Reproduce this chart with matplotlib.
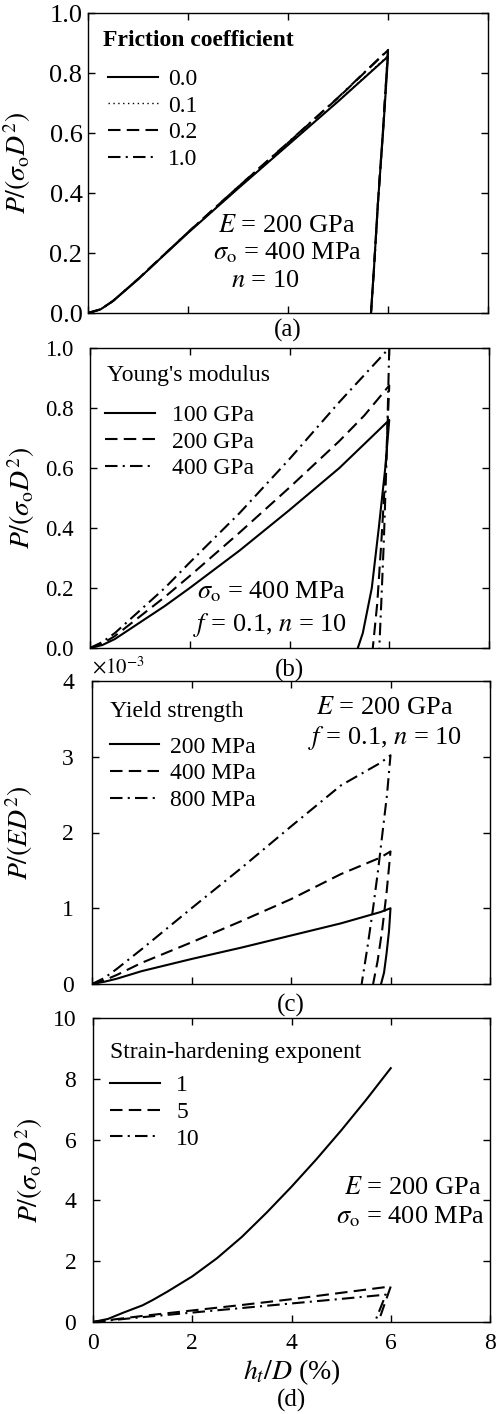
import matplotlib
matplotlib.use('Agg')
import matplotlib.pyplot as plt

plt.rcParams['font.family'] = ['Liberation Serif', 'DejaVu Serif']
plt.rcParams['mathtext.fontset'] = 'stix'

# ---------------- data ----------------
x_ticks = [0, 2, 4, 6, 8]

# (a) friction coefficient
a_labels = ['0.0', '0.1', '0.2', '1.0']
a_load_x = [0, 0.25, 0.5, 1, 1.5, 2, 3, 4, 5, 6]
a_load_f00 = [0, 0.012, 0.04, 0.112, 0.19, 0.267, 0.415, 0.56, 0.705, 0.855]
a_load_f01 = [0, 0.012, 0.04, 0.112, 0.19, 0.267, 0.415, 0.56, 0.706, 0.858]
a_load_f02 = [0, 0.012, 0.04, 0.113, 0.191, 0.269, 0.42, 0.567, 0.717, 0.876]
a_load_f10 = [0, 0.012, 0.04, 0.113, 0.191, 0.269, 0.42, 0.568, 0.718, 0.877]
a_unload_x = [6, 5.9, 5.8, 5.72, 5.66]
a_unload_f00 = [0.855, 0.6, 0.37, 0.15, 0]
a_unload_f01 = [0.858, 0.6, 0.37, 0.15, 0]
a_unload_f02 = [0.876, 0.61, 0.37, 0.15, 0]
a_unload_f10 = [0.877, 0.61, 0.37, 0.15, 0]

# (b) Young's modulus
b_labels = ['100 GPa', '200 GPa', '400 GPa']
b_load_x = [0, 0.25, 0.5, 1, 1.5, 2, 3, 4, 5, 5.5, 6]
b_load_e100 = [0, 0.01, 0.03, 0.085, 0.14, 0.2, 0.325, 0.46, 0.6, 0.68, 0.76]
b_load_e200 = [0, 0.015, 0.04, 0.105, 0.17, 0.24, 0.385, 0.535, 0.69, 0.775, 0.875]
b_load_e400 = [0, 0.02, 0.05, 0.125, 0.2, 0.285, 0.45, 0.63, 0.82, 0.91, 1.0]
b_unload_x_e100 = [6, 5.92, 5.79, 5.65, 5.47, 5.37]
b_unload_y_e100 = [0.76, 0.6, 0.4, 0.2, 0.05, 0]
b_unload_x_e200 = [6, 5.93, 5.84, 5.76, 5.67]
b_unload_y_e200 = [0.875, 0.6, 0.35, 0.15, 0]
b_unload_x_e400 = [6, 5.95, 5.89, 5.84, 5.8]
b_unload_y_e400 = [1.0, 0.65, 0.35, 0.15, 0]

# (c) yield strength (x 1e-3)
c_labels = ['200 MPa', '400 MPa', '800 MPa']
c_load_x = [0, 0.25, 0.5, 1, 2, 3, 4, 5, 5.8, 6]
c_load_s200 = [0, 0.03, 0.07, 0.17, 0.33, 0.48, 0.64, 0.8, 0.95, 1.0]
c_load_s400 = [0, 0.05, 0.12, 0.28, 0.55, 0.83, 1.12, 1.45, 1.67, 1.75]
c_load_s800 = [0, 0.08, 0.2, 0.46, 1.0, 1.53, 2.08, 2.62, 2.92, 3.02]
c_unload_x_s200 = [6, 5.97, 5.92, 5.87, 5.81]
c_unload_y_s200 = [1.0, 0.7, 0.4, 0.15, 0]
c_unload_x_s400 = [6, 5.92, 5.83, 5.74, 5.65]
c_unload_y_s400 = [1.75, 1.2, 0.7, 0.3, 0]
c_unload_x_s800 = [6, 5.93, 5.84, 5.75, 5.65, 5.54, 5.42]
c_unload_y_s800 = [3.02, 2.5, 2.0, 1.5, 1.0, 0.5, 0]

# (d) strain-hardening exponent
d_labels = ['1', '5', '10']
d_load_x_n1 = [0, 0.3, 0.6, 1, 1.2, 1.5, 2, 2.5, 3, 3.5, 4, 4.5, 5, 5.5, 6]
d_load_y_n1 = [0, 0.1, 0.3, 0.55, 0.72, 1.0, 1.5, 2.1, 2.8, 3.6, 4.45, 5.35, 6.3, 7.3, 8.35]
d_load_x_n5 = [0, 0.5, 1, 2, 3, 4, 5, 6]
d_load_y_n5 = [0, 0.1, 0.2, 0.38, 0.56, 0.75, 0.96, 1.17]
d_load_x_n10 = [0, 0.5, 1, 2, 3, 4, 5, 5.9]
d_load_y_n10 = [0, 0.08, 0.16, 0.31, 0.46, 0.61, 0.76, 0.9]
d_unload_x_n5 = [6, 5.75]
d_unload_y_n5 = [1.17, 0]
d_unload_x_n10 = [5.9, 5.68]
d_unload_y_n10 = [0.9, 0]

# ---------------- styles ----------------
LW = 1.5
solid = dict(color='black', lw=LW, linestyle='-')
dotted = dict(color='black', lw=1.0, linestyle=(0, (1, 2.5)))
dashed = dict(color='black', lw=LW, linestyle=(0, (6, 3)))
dashdot = dict(color='black', lw=LW, linestyle=(0, (6, 2.5, 1, 2.5)))

LEG_FS = 17
TXT_FS = 19
LAB_FS = 20

fig = plt.figure(figsize=(4.97, 14.14), dpi=100)
W, H = 497, 1414

def make_ax(left, top, right, bottom):
    return fig.add_axes([left / W, 1 - bottom / H, (right - left) / W, (bottom - top) / H])

axA = make_ax(88, 13, 488, 313)
axB = make_ax(90, 348, 489, 648)
axC = make_ax(92, 681, 490, 984)
axD = make_ax(93, 1018, 490, 1322)

def style_ax(ax, ylim, yticks, ylabels, show_x, tick_fs, ypad):
    ax.set_xlim(0, 8)
    ax.set_ylim(*ylim)
    ax.set_xticks(x_ticks)
    ax.set_yticks(yticks)
    ax.set_yticklabels(ylabels)
    if not show_x:
        ax.set_xticklabels([])
    ax.tick_params(direction='in', top=True, right=True, length=5, width=1,
                   labelsize=tick_fs)
    ax.tick_params(axis='y', pad=ypad)
    ax.tick_params(axis='x', pad=8)
    for s in ax.spines.values():
        s.set_linewidth(1.0)

def concat(a, b):
    return list(a) + list(b)

# (a)
axA.plot(concat(a_load_x, a_unload_x), concat(a_load_f00, a_unload_f00), label=a_labels[0], **solid)
axA.plot(concat(a_load_x, a_unload_x), concat(a_load_f01, a_unload_f01), label=a_labels[1], **dotted)
axA.plot(concat(a_load_x, a_unload_x), concat(a_load_f02, a_unload_f02), label=a_labels[2], **dashed)
axA.plot(concat(a_load_x, a_unload_x), concat(a_load_f10, a_unload_f10), label=a_labels[3], **dashdot)
style_ax(axA, (0, 1), [0, 0.2, 0.4, 0.6, 0.8, 1.0], ['0.0', '0.2', '0.4', '0.6', '0.8', '1.0'],
         False, 19, 4)

# (b)
axB.plot(concat(b_load_x, b_unload_x_e100), concat(b_load_e100, b_unload_y_e100), label=b_labels[0], **solid)
axB.plot(concat(b_load_x, b_unload_x_e200), concat(b_load_e200, b_unload_y_e200), label=b_labels[1], **dashed)
axB.plot(concat(b_load_x, b_unload_x_e400), concat(b_load_e400, b_unload_y_e400), label=b_labels[2], **dashdot)
style_ax(axB, (0, 1), [0, 0.2, 0.4, 0.6, 0.8, 1.0], ['0.0', '0.2', '0.4', '0.6', '0.8', '1.0'],
         False, 16.5, 12)

# (c)
axC.plot(concat(c_load_x, c_unload_x_s200), concat(c_load_s200, c_unload_y_s200), label=c_labels[0], **solid)
axC.plot(concat(c_load_x, c_unload_x_s400), concat(c_load_s400, c_unload_y_s400), label=c_labels[1], **dashed)
axC.plot(concat(c_load_x, c_unload_x_s800), concat(c_load_s800, c_unload_y_s800), label=c_labels[2], **dashdot)
style_ax(axC, (0, 4), [0, 1, 2, 3, 4], ['0', '1', '2', '3', '4'], False, 17, 13)

# (d)
axD.plot(d_load_x_n1, d_load_y_n1, label=d_labels[0], **solid)
axD.plot(concat(d_load_x_n5, d_unload_x_n5), concat(d_load_y_n5, d_unload_y_n5), label=d_labels[1], **dashed)
axD.plot(concat(d_load_x_n10, d_unload_x_n10), concat(d_load_y_n10, d_unload_y_n10), label=d_labels[2], **dashdot)
style_ax(axD, (0, 10), [0, 2, 4, 6, 8, 10], ['0', '2', '4', '6', '8', '10'], True, 17, 12)

# y labels
ylab_sigma = r'$P/(\sigma_{\rm o}D^2)$'
for ax, lab, xc in [(axA, ylab_sigma, -0.1375), (axB, ylab_sigma, -0.133),
                    (axC, r'$P/(ED^2)$', -0.143), (axD, r'$P/(\sigma_{\rm o}\,D^2)$', -0.121)]:
    ax.set_ylabel(lab, fontsize=LAB_FS)
    ax.yaxis.set_label_coords(xc, 0.5)

axD.set_xlabel(r'$h_t/D$ (%)', fontsize=LAB_FS, labelpad=2)

# panel labels
PFS = 18
axA.text(0.5, -17 / 300, '(a)', transform=axA.transAxes, ha='center', va='center', fontsize=PFS)
axB.text(0.5, -22 / 300, '(b)', transform=axB.transAxes, ha='center', va='center', fontsize=PFS)
axC.text(0.5, -21 / 303, '(c)', transform=axC.transAxes, ha='center', va='center', fontsize=PFS)
axD.text(0.5, -78 / 304, '(d)', transform=axD.transAxes, ha='center', va='center', fontsize=PFS)

axC.text(0.0, 1.01, r'$\times10^{-3}$', transform=axC.transAxes, ha='left', va='bottom', fontsize=15)

# annotations
def txt(ax, x, y, s):
    ax.text(x, y, s, transform=ax.transAxes, ha='center', va='center', fontsize=TXT_FS)

txt(axA, 0.4975, 0.29, r'$E$ = 200 GPa')
txt(axA, 0.50, 0.20, r'$\sigma_{\rm o}$ = 400 MPa')
txt(axA, 0.4425, 0.107, r'$n$ = 10')
txt(axB, 0.456, 0.187, r'$\sigma_{\rm o}$ = 400 MPa')
txt(axB, 0.451, 0.077, r'$f$ = 0.1, $n$ = 10')
txt(axC, 0.736, 0.911, r'$E$ = 200 GPa')
txt(axC, 0.736, 0.812, r'$f$ = 0.1, $n$ = 10')
txt(axD, 0.806, 0.441, r'$E$ = 200 GPa')
txt(axD, 0.80, 0.345, r'$\sigma_{\rm o}$ = 400 MPa')

# legends (title placed as separate text for spacing control)
def leg(ax, title, tx, ty, lx, ly, bold=False, textpad=0.5):
    ax.text(tx, ty, title, transform=ax.transAxes, ha='left', va='center',
            fontsize=LEG_FS, fontweight='bold' if bold else 'normal')
    ax.legend(loc='upper left', bbox_to_anchor=(lx, ly),
              frameon=False, fontsize=LEG_FS, handlelength=2.1,
              handletextpad=textpad, labelspacing=0.22, borderpad=0,
              borderaxespad=0)

leg(axA, 'Friction coefficient', 0.0375, 0.91, 0.05, 0.815, bold=True, textpad=0.45)
leg(axB, "Young's modulus", 0.043, 0.91, 0.038, 0.812, textpad=0.75)
leg(axC, 'Yield strength', 0.045, 0.898, 0.045, 0.818, textpad=0.45)
leg(axD, 'Strain-hardening exponent', 0.043, 0.888, 0.043, 0.814, textpad=0.7)

fig.savefig('out.png', dpi=100)
